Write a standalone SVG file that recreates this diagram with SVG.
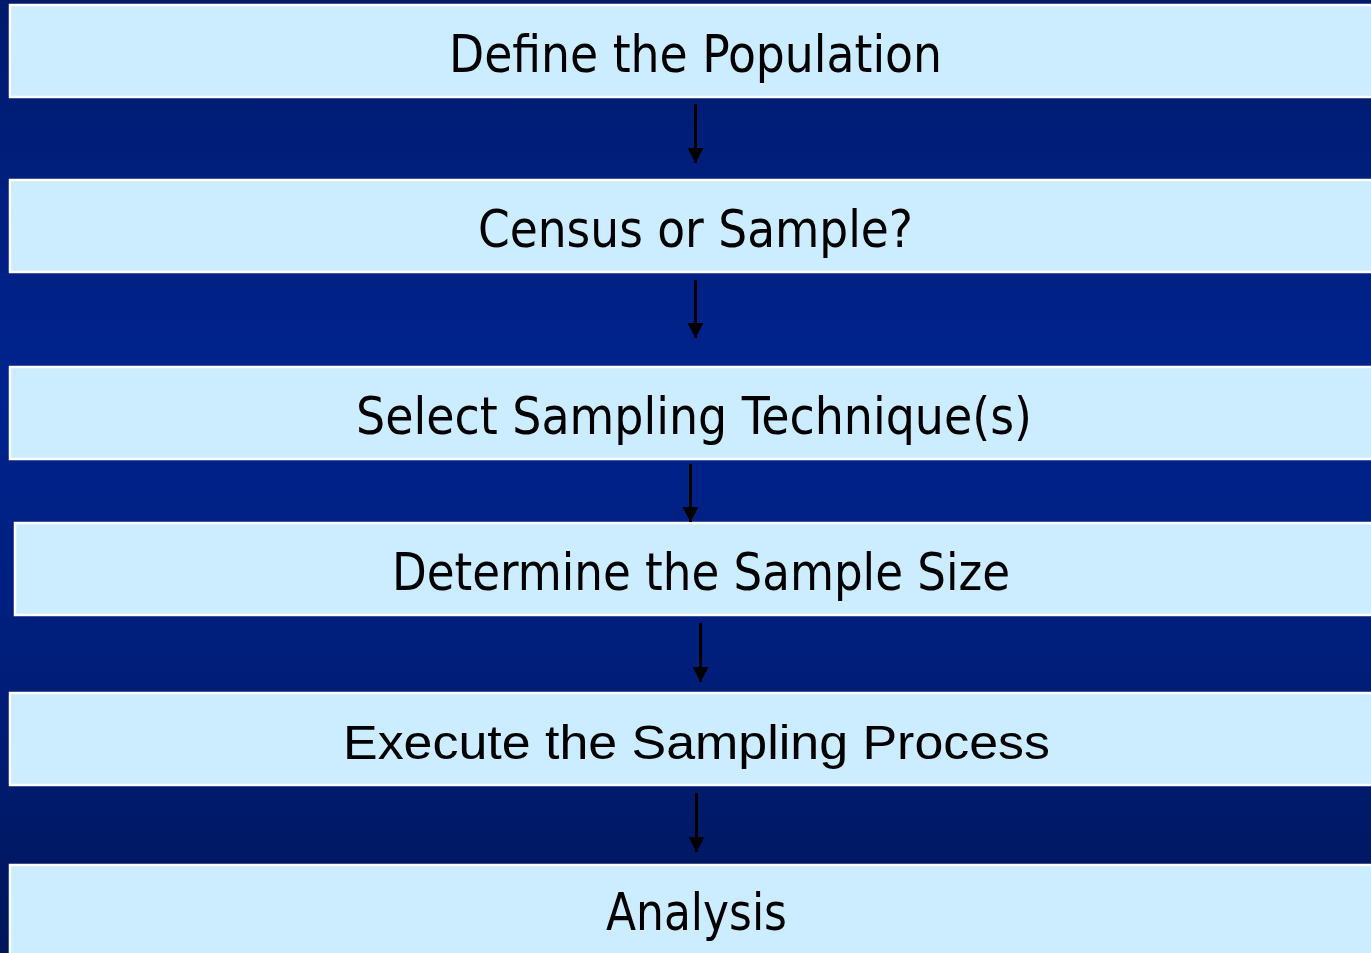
<svg xmlns="http://www.w3.org/2000/svg" width="1371" height="953" viewBox="0 0 1371 953">
  <defs>
    <linearGradient id="bg" x1="0" y1="0" x2="0" y2="1">
      <stop offset="0" stop-color="#001a6c"/>
      <stop offset="0.4" stop-color="#00238e"/>
      <stop offset="0.7" stop-color="#001e7a"/>
      <stop offset="1" stop-color="#00165a"/>
    </linearGradient>
    <marker id="arr" markerUnits="userSpaceOnUse" markerWidth="17" markerHeight="17" refX="15" refY="8" orient="auto">
      <path d="M0,0 L15,8 L0,16 Z" fill="#000"/>
    </marker>
    <style>
      .box { fill: #CCECFF; stroke: #ffffff; stroke-width: 2.5; }
      .t { font-family: "DejaVu Sans Condensed", "DejaVu Sans", sans-serif; font-size: 52px; fill: #000; text-anchor: start; }
      .a { font-family: "Liberation Sans", Arial, sans-serif; font-size: 48px; fill: #000; text-anchor: start; }
      .c { stroke: #000; stroke-width: 3; fill: none; marker-end: url(#arr); }
    </style>
  </defs>
  <rect x="0" y="0" width="1371" height="953" fill="url(#bg)"/>

  <g id="n1">
    <rect class="box" x="10" y="5" width="1370" height="92"/>
    <text class="t" x="449" y="72" textLength="493" lengthAdjust="spacingAndGlyphs">Define the Population</text>
  </g>
  <g id="n2">
    <rect class="box" x="10" y="180" width="1370" height="92"/>
    <text class="t" x="478" y="247" textLength="435" lengthAdjust="spacingAndGlyphs">Census or Sample?</text>
  </g>
  <g id="n3">
    <rect class="box" x="10" y="367" width="1370" height="92"/>
    <text class="t" x="356" y="434" textLength="676" lengthAdjust="spacingAndGlyphs">Select Sampling Technique(s)</text>
  </g>
  <g id="n4">
    <rect class="box" x="15" y="523" width="1370" height="92"/>
    <text class="t" x="392" y="590" textLength="618" lengthAdjust="spacingAndGlyphs">Determine the Sample Size</text>
  </g>
  <g id="n5">
    <rect class="box" x="10" y="693" width="1370" height="92"/>
    <text class="a" x="343" y="759" textLength="707" lengthAdjust="spacingAndGlyphs">Execute the Sampling Process</text>
  </g>
  <g id="n6">
    <rect class="box" x="10" y="865" width="1370" height="100"/>
    <text class="t" x="606" y="930" textLength="181" lengthAdjust="spacingAndGlyphs">Analysis</text>
  </g>

  <g id="connectors">
    <line class="c" x1="695.5" y1="104" x2="695.5" y2="163"/>
    <line class="c" x1="695.5" y1="280" x2="695.5" y2="338"/>
    <line class="c" x1="690.5" y1="464" x2="690.5" y2="522"/>
    <line class="c" x1="700.5" y1="623" x2="700.5" y2="682"/>
    <line class="c" x1="696.5" y1="793" x2="696.5" y2="852"/>
  </g>
</svg>
